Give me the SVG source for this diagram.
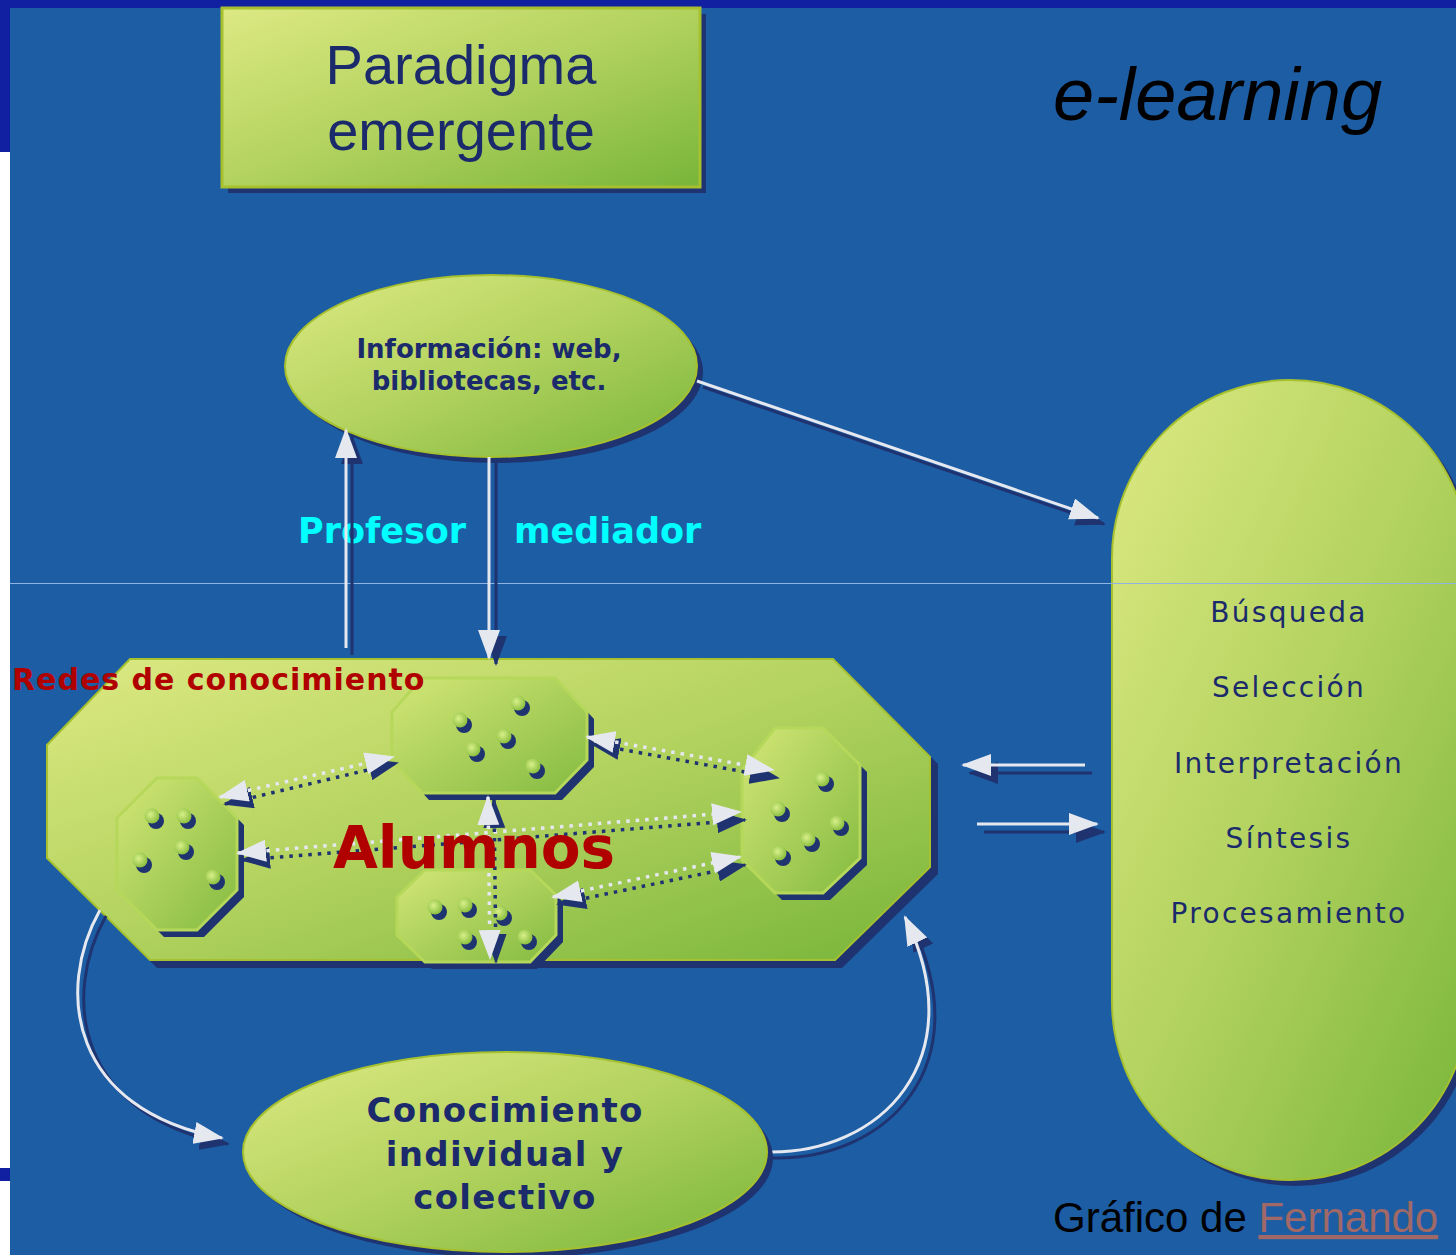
<svg xmlns="http://www.w3.org/2000/svg" xmlns:xlink="http://www.w3.org/1999/xlink" width="1456" height="1255" viewBox="0 0 1456 1255">
<style>
.sh{fill:#1f3370}
.navy{fill:#1b2a6b}
.bold{font-family:"DejaVu Sans",Verdana,sans-serif;font-weight:bold}
.reg{font-family:"DejaVu Sans",Verdana,sans-serif}
.ar{font-family:"Liberation Sans",Arial,sans-serif}
.wl{fill:none;stroke:#e6e8f0;stroke-width:3}
.sl{fill:none;stroke:#1f3370;stroke-width:3}
.wd{fill:none;stroke:#e6e8f0;stroke-width:3.5;stroke-dasharray:3.5 6}
.sd{fill:none;stroke:#1f3370;stroke-width:3.5;stroke-dasharray:3.5 6}
.cap{font-size:28px;text-anchor:middle;letter-spacing:2.3px}
</style>
<defs>
<linearGradient id="g" x1="0" y1="0" x2="1" y2="1">
<stop offset="0" stop-color="#dde983"/>
<stop offset="0.5" stop-color="#b2d25e"/>
<stop offset="1" stop-color="#78b53a"/>
</linearGradient>
<linearGradient id="g2" x1="0" y1="0" x2="1" y2="1">
<stop offset="0" stop-color="#d3e676"/>
<stop offset="1" stop-color="#84bb40"/>
</linearGradient>
<radialGradient id="dg" cx="0.4" cy="0.4" r="0.6">
<stop offset="0" stop-color="#d8ef8a"/>
<stop offset="1" stop-color="#8cc040"/>
</radialGradient>
<marker id="aw" markerUnits="userSpaceOnUse" markerWidth="30" markerHeight="22" refX="28" refY="11" orient="auto-start-reverse" viewBox="0 0 30 22">
<path d="M0,0 L30,11 L0,22 z" fill="#e6e8f0"/>
</marker>
<marker id="as" markerUnits="userSpaceOnUse" markerWidth="30" markerHeight="22" refX="28" refY="11" orient="auto-start-reverse" viewBox="0 0 30 22">
<path d="M0,0 L30,11 L0,22 z" fill="#1f3370"/>
</marker>
<g id="dot">
<circle cx="4" cy="5" r="8" fill="#1f3370"/>
<circle cx="0" cy="0" r="7.5" fill="url(#dg)"/>
</g>
</defs>

<!-- background -->
<rect x="0" y="0" width="1456" height="1255" fill="#ffffff"/>
<rect x="10" y="0" width="1446" height="1255" fill="#1c5da3"/>
<rect x="0" y="0" width="1456" height="8" fill="#1020a0"/>
<rect x="0" y="0" width="10" height="152" fill="#1020a0"/>
<rect x="0" y="1168" width="10" height="13" fill="#1020a0"/>

<!-- title -->
<g id="title">
<rect x="228" y="14" width="478" height="179" class="sh"/>
<rect x="222" y="8" width="478" height="179" fill="url(#g)" stroke="#a6c02e" stroke-width="3"/>
<text x="461" y="84" class="ar navy" font-size="56" text-anchor="middle">Paradigma</text>
<text x="461" y="150" class="ar navy" font-size="56" text-anchor="middle">emergente</text>
</g>

<g id="elearning">
<text x="1053" y="120" class="ar" font-size="74" font-style="italic" fill="#000">e-learning</text>
</g>

<!-- info ellipse -->
<g id="info">
<ellipse cx="497" cy="372" rx="206" ry="91" class="sh"/>
<ellipse cx="491" cy="366" rx="206" ry="91" fill="url(#g)" stroke="#a6c02e" stroke-width="2"/>
<text x="489" y="358" class="bold navy" font-size="26" text-anchor="middle">Información: web,</text>
<text x="489" y="390" class="bold navy" font-size="26" text-anchor="middle">bibliotecas, etc.</text>
</g>

<!-- capsule -->
<g id="procesos">
<rect x="1118" y="386" width="356" height="800" rx="178" class="sh"/>
<rect x="1112" y="380" width="356" height="800" rx="178" fill="url(#g)" stroke="#a6c02e" stroke-width="2"/>
<text x="1289" y="622" class="reg navy cap">Búsqueda</text>
<text x="1289" y="697" class="reg navy cap">Selección</text>
<text x="1289" y="773" class="reg navy cap">Interpretación</text>
<text x="1289" y="848" class="reg navy cap">Síntesis</text>
<text x="1289" y="923" class="reg navy cap">Procesamiento</text>
</g>

<!-- thin horizontal line -->
<rect x="10" y="583" width="1446" height="1" fill="#8fb4e4"/>

<!-- labels -->
<g id="labels">
<text x="298" y="543" class="bold" font-size="35" fill="#00ffff">Profesor</text>
<text x="514" y="543" class="bold" font-size="35" fill="#00ffff">mediador</text>
</g>

<!-- big octagon -->
<g id="redes">
<polygon points="137,666 840,666 938,764 938,874 842,968 157,968 54,865 54,752" class="sh"/>
<polygon points="130,659 833,659 930,757 930,867 835,960 150,960 47,858 47,745" fill="url(#g)" stroke="#a6c02e" stroke-width="2"/>
</g>

<!-- small octagons -->
<g id="grupo1">
<polygon points="164,785 204,785 244,825 244,897 204,937 164,937 124,897 124,825" class="sh"/>
<polygon points="157,778 197,778 237,818 237,890 197,930 157,930 117,890 117,818" fill="url(#g2)" stroke="#b6d85a" stroke-width="3"/>
<use xlink:href="#dot" x="152" y="816"/>
<use xlink:href="#dot" x="184" y="816"/>
<use xlink:href="#dot" x="182" y="847"/>
<use xlink:href="#dot" x="140" y="860"/>
<use xlink:href="#dot" x="213" y="877"/>
</g>
<g id="grupo2">
<polygon points="429,685 562,685 594,719 594,767 562,800 429,800 399,767 399,719" class="sh"/>
<polygon points="422,678 555,678 587,712 587,760 555,793 422,793 392,760 392,712" fill="url(#g2)" stroke="#b6d85a" stroke-width="3"/>
<use xlink:href="#dot" x="460" y="720"/>
<use xlink:href="#dot" x="518" y="703"/>
<use xlink:href="#dot" x="504" y="736"/>
<use xlink:href="#dot" x="473" y="749"/>
<use xlink:href="#dot" x="533" y="766"/>
</g>
<g id="grupo3">
<polygon points="432,877 537,877 563,902 563,942 537,969 432,969 404,942 404,904" class="sh"/>
<polygon points="425,870 530,870 556,895 556,935 530,962 425,962 397,935 397,897" fill="url(#g2)" stroke="#b6d85a" stroke-width="3"/>
<use xlink:href="#dot" x="435" y="907"/>
<use xlink:href="#dot" x="465" y="905"/>
<use xlink:href="#dot" x="500" y="913"/>
<use xlink:href="#dot" x="465" y="937"/>
<use xlink:href="#dot" x="525" y="937"/>
</g>
<g id="grupo4">
<polygon points="782,735 830,735 867,772 867,865 830,900 782,900 749,867 749,777" class="sh"/>
<polygon points="775,728 823,728 860,765 860,858 823,893 775,893 742,860 742,770" fill="url(#g2)" stroke="#b6d85a" stroke-width="3"/>
<use xlink:href="#dot" x="822" y="779"/>
<use xlink:href="#dot" x="778" y="809"/>
<use xlink:href="#dot" x="837" y="823"/>
<use xlink:href="#dot" x="808" y="839"/>
<use xlink:href="#dot" x="779" y="853"/>
</g>

<!-- texts over octagon -->
<text x="12" y="690" class="bold" font-size="30" fill="#b00000" letter-spacing="1">Redes de conocimiento</text>

<!-- connectors -->
<g id="connectors">
<!-- info -> capsule -->
<path d="M703,387 L1104,524" class="sl" marker-end="url(#as)"/>
<path d="M697,381 L1098,518" class="wl" marker-end="url(#aw)"/>
<!-- profesor up -->
<path d="M352,655 L352,436" class="sl" marker-end="url(#as)"/>
<path d="M346,648 L346,430" class="wl" marker-end="url(#aw)"/>
<!-- mediador down -->
<path d="M496,463 L496,664" class="sl" marker-end="url(#as)"/>
<path d="M489,457 L489,658" class="wl" marker-end="url(#aw)"/>
<!-- right pair -->
<path d="M1092,773 L970,773" class="sl" marker-end="url(#as)"/>
<path d="M1085,765 L963,765" class="wl" marker-end="url(#aw)"/>
<path d="M984,832 L1104,832" class="sl" marker-end="url(#as)"/>
<path d="M977,824 L1097,824" class="wl" marker-end="url(#aw)"/>
<!-- curves -->
<path d="M106,916 C61,996 76,1116 228,1144" class="sl" marker-end="url(#as)"/>
<path d="M100,910 C55,990 70,1110 222,1138" class="wl" marker-end="url(#aw)"/>
<path d="M772,1158 C886,1161 981,1066 911,923" class="sl" marker-end="url(#as)"/>
<path d="M766,1152 C880,1155 975,1060 905,917" class="wl" marker-end="url(#aw)"/>
<!-- dotted double arrows -->
<path d="M225,804 L397,763" class="sd" marker-start="url(#as)" marker-end="url(#as)"/>
<path d="M220,797 L393,757" class="wd" marker-start="url(#aw)" marker-end="url(#aw)"/>
<path d="M242,860 L745,820" class="sd" marker-start="url(#as)" marker-end="url(#as)"/>
<path d="M238,853 L740,812" class="wd" marker-start="url(#aw)" marker-end="url(#aw)"/>
<path d="M592,744 L778,778" class="sd" marker-start="url(#as)" marker-end="url(#as)"/>
<path d="M587,737 L773,770" class="wd" marker-start="url(#aw)" marker-end="url(#aw)"/>
<path d="M558,904 L745,865" class="sd" marker-start="url(#as)" marker-end="url(#as)"/>
<path d="M553,897 L740,857" class="wd" marker-start="url(#aw)" marker-end="url(#aw)"/>
<path d="M494,800 L496,962" class="sd" marker-start="url(#as)" marker-end="url(#as)"/>
<path d="M488,797 L490,958" class="wd" marker-start="url(#aw)" marker-end="url(#aw)"/>
</g>

<text x="474" y="868" class="bold" font-size="58" fill="#b00000" text-anchor="middle">Alumnos</text>

<!-- bottom ellipse -->
<g id="conocimiento">
<ellipse cx="511" cy="1158" rx="262" ry="100" class="sh"/>
<ellipse cx="505" cy="1152" rx="262" ry="100" fill="url(#g)" stroke="#a6c02e" stroke-width="2"/>
<text x="505" y="1122" class="bold navy" font-size="34" text-anchor="middle" letter-spacing="1.3">Conocimiento</text>
<text x="505" y="1166" class="bold navy" font-size="34" text-anchor="middle" letter-spacing="1.3">individual y</text>
<text x="505" y="1209" class="bold navy" font-size="34" text-anchor="middle" letter-spacing="1.3">colectivo</text>
</g>

<g id="credito">
<text x="1053" y="1232" class="ar" font-size="42" fill="#000">Gráfico de <tspan fill="#a06866" text-decoration="underline">Fernando</tspan></text>
</g>
</svg>
